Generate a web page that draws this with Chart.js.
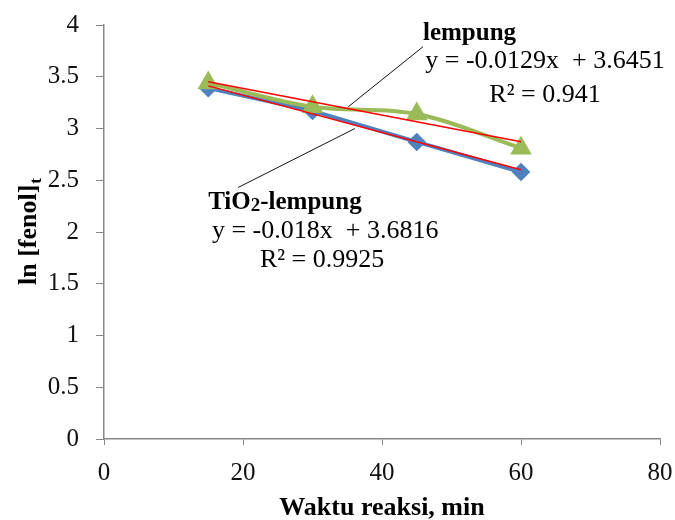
<!DOCTYPE html>
<html>
<head>
<meta charset="utf-8">
<script src="https://cdn.jsdelivr.net/npm/chart.js@4.4.1/dist/chart.umd.min.js"></script>
<style>
  html, body { margin: 0; padding: 0; background: #fff; }
</style>
</head>
<body>
<canvas id="chart" width="675" height="520"></canvas>
<script>
// reaction time (min) and ln of phenol concentration
const waktu = [15, 30, 45, 60];
const tio2Lempung = [3.39, 3.17, 2.87, 2.58];
const lempung = [3.44, 3.21, 3.14, 2.81];

const xTicks = [0, 20, 40, 60, 80];
const yTicks = [0, 0.5, 1, 1.5, 2, 2.5, 3, 3.5, 4];

// linear trendlines as printed on the chart
const fitTio2 = { slope: -0.018, intercept: 3.6816, r2: '0.9925' };
const fitLempung = { slope: -0.0129, intercept: 3.6451, r2: '0.941' };

// leader lines from the labels to the curves
const leaderLempung = [{ x: 45.9, y: 3.79 }, { x: 35.15, y: 3.21 }];
const leaderTio2 = [{ x: 36.1, y: 3.0 }, { x: 19.3, y: 2.43 }];

const SERIF = '"Liberation Serif", "Times New Roman", serif';
const AXIS_GREY = '#878787';

function trend(fit) {
  const x0 = waktu[0], x1 = waktu[waktu.length - 1];
  return [
    { x: x0, y: fit.intercept + fit.slope * x0 },
    { x: x1, y: fit.intercept + fit.slope * x1 }
  ];
}

function eqText(fit) {
  const s = fit.slope < 0 ? '-' + Math.abs(fit.slope) : String(fit.slope);
  return 'y = ' + s + 'x  + ' + fit.intercept;
}

const labelsPlugin = {
  id: 'labels',
  afterDraw(chart) {
    const ctx = chart.ctx;
    const xs = chart.scales.x, ys = chart.scales.y;
    const area = chart.chartArea;
    ctx.save();
    ctx.fillStyle = '#000';
    ctx.textBaseline = 'alphabetic';

    // lempung block, anchored at the top end of its leader line
    let ax = xs.getPixelForValue(leaderLempung[0].x);
    let ay = ys.getPixelForValue(leaderLempung[0].y);
    ctx.textAlign = 'left';
    ctx.font = 'bold 25px ' + SERIF;
    ctx.fillText('lempung', ax, ay - 7);
    ctx.textAlign = 'center';
    ctx.font = '26px ' + SERIF;
    ctx.fillText(eqText(fitLempung), ax + 122, ay + 21);
    ctx.fillText('R\u00B2 = ' + fitLempung.r2, ax + 122, ay + 55);

    // TiO2-lempung block, anchored at the lower end of its leader line
    ax = xs.getPixelForValue(leaderTio2[1].x);
    ay = ys.getPixelForValue(leaderTio2[1].y);
    ctx.textAlign = 'left';
    let x = ax - 30;
    const base = ay + 22;
    ctx.font = 'bold 25px ' + SERIF;
    ctx.fillText('TiO', x, base);
    x += ctx.measureText('TiO').width;
    ctx.font = 'bold 19px ' + SERIF;
    ctx.fillText('2', x, base + 2);
    x += ctx.measureText('2').width;
    ctx.font = 'bold 25px ' + SERIF;
    ctx.fillText('-lempung', x, base);
    ctx.textAlign = 'center';
    ctx.font = '26px ' + SERIF;
    ctx.fillText(eqText(fitTio2), ax + 87, ay + 51);
    ctx.fillText('R\u00B2 = ' + fitTio2.r2, ax + 84, ay + 80);

    // x axis title
    ctx.font = 'bold 26px ' + SERIF;
    ctx.textAlign = 'center';
    ctx.fillText('Waktu reaksi, min', (area.left + area.right) / 2, 515);

    // y axis title with subscript t
    ctx.translate(36, (area.top + area.bottom) / 2);
    ctx.rotate(-Math.PI / 2);
    const main = 'ln [fenol]';
    ctx.font = 'bold 26px ' + SERIF;
    const wMain = ctx.measureText(main).width;
    ctx.font = 'bold 17px ' + SERIF;
    const wSub = ctx.measureText('t').width;
    const start = -(wMain + wSub) / 2;
    ctx.textAlign = 'left';
    ctx.font = 'bold 26px ' + SERIF;
    ctx.fillText(main, start, 0);
    ctx.font = 'bold 17px ' + SERIF;
    ctx.fillText('t', start + wMain + 1, 5);
    ctx.restore();
  }
};

new Chart(document.getElementById('chart'), {
  type: 'scatter',
  data: {
    datasets: [
      {
        label: 'lempung trend',
        data: trend(fitLempung),
        showLine: true,
        borderColor: '#ff0000',
        borderWidth: 1.5,
        pointRadius: 0,
        order: 0
      },
      {
        label: 'TiO2-lempung trend',
        data: trend(fitTio2),
        showLine: true,
        borderColor: '#ff0000',
        borderWidth: 1.5,
        pointRadius: 0,
        order: 0
      },
      {
        label: 'lempung',
        data: waktu.map((t, i) => ({ x: t, y: lempung[i] })),
        showLine: true,
        tension: 0.35,
        borderColor: '#9bbb59',
        backgroundColor: '#9bbb59',
        borderWidth: 4,
        pointStyle: 'triangle',
        pointRadius: 8.5,
        order: 1
      },
      {
        label: 'TiO2-lempung',
        data: waktu.map((t, i) => ({ x: t, y: tio2Lempung[i] })),
        showLine: true,
        tension: 0,
        borderColor: '#4f81bd',
        backgroundColor: '#4f81bd',
        borderWidth: 4,
        pointStyle: 'rectRot',
        pointRadius: 6.5,
        order: 2
      },
      {
        label: 'leader lempung',
        data: leaderLempung,
        showLine: true,
        borderColor: '#111',
        borderWidth: 1,
        pointRadius: 0,
        order: 3
      },
      {
        label: 'leader TiO2',
        data: leaderTio2,
        showLine: true,
        borderColor: '#111',
        borderWidth: 1,
        pointRadius: 0,
        order: 3
      }
    ]
  },
  options: {
    responsive: false,
    animation: false,
    layout: { padding: { top: 25, right: 15, left: 0, bottom: 0 } },
    plugins: {
      legend: { display: false },
      tooltip: { enabled: false }
    },
    scales: {
      x: {
        type: 'linear',
        min: 0,
        max: 80,
        afterFit(scale) {
          scale.height = 81;
          scale.paddingLeft = 0;
          scale.paddingRight = 0;
        },
        afterBuildTicks(scale) { scale.ticks = xTicks.map(v => ({ value: v })); },
        grid: { display: true, drawOnChartArea: false, tickLength: 6, color: AXIS_GREY },
        border: { color: AXIS_GREY, width: 1.5 },
        ticks: {
          padding: 13,
          color: '#111',
          font: { family: SERIF, size: 25 },
          maxRotation: 0,
          callback: v => String(v)
        }
      },
      y: {
        type: 'linear',
        min: 0,
        max: 4,
        afterFit(scale) {
          scale.width = 104;
          scale.paddingTop = 0;
          scale.paddingBottom = 0;
        },
        afterBuildTicks(scale) { scale.ticks = yTicks.map(v => ({ value: v })); },
        grid: { display: true, drawOnChartArea: false, tickLength: 8, color: AXIS_GREY },
        border: { color: AXIS_GREY, width: 1.5 },
        ticks: {
          padding: 17,
          color: '#111',
          font: { family: SERIF, size: 25 },
          callback: v => String(v)
        }
      }
    }
  },
  plugins: [labelsPlugin]
});
</script>
</body>
</html>
